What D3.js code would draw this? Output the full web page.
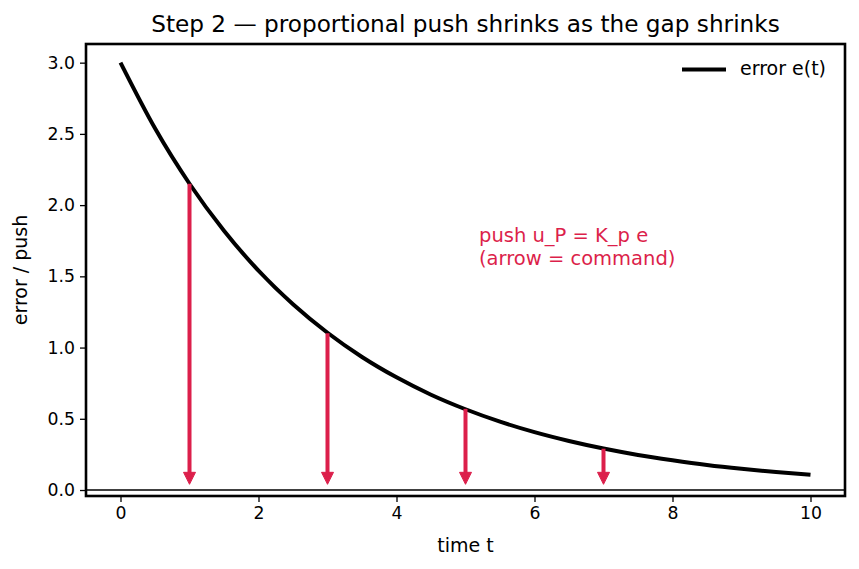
<!DOCTYPE html>
<html><head><meta charset="utf-8">
<script src="https://cdn.jsdelivr.net/npm/d3@7"></script>
<style>body{margin:0;background:#fff}svg{display:block;font-family:"DejaVu Sans",sans-serif}</style>
</head><body><svg id="c" width="859" height="569"></svg>
<script>
const tValues = [0,0.5,1,1.5,2,2.5,3,3.5,4,4.5,5,5.5,6,6.5,7,7.5,8,8.5,9,9.5,10];
const errorValues = [3.000,2.539,2.150,1.820,1.540,1.304,1.104,0.934,0.791,0.669,0.567,0.480,0.406,0.344,0.291,0.246,0.209,0.176,0.149,0.126,0.107];
const arrowT = [1,3,5,7];
const arrowTop = [2.15,1.10,0.57,0.29];
const arrowTip = 0.04;
const xTicks = [0,2,4,6,8,10];
const yTicks = [0.0,0.5,1.0,1.5,2.0,2.5,3.0];

const svg = d3.select("#c");
const L=86,R=845,T=44,B=496;
const x = d3.scaleLinear().domain([-0.5,10.5]).range([L,R]);
const y = d3.scaleLinear().domain([-0.042,3.131]).range([B,T]);
const red = "#dc1f4b";

// y=0 reference line
svg.append("line").attr("x1",L).attr("x2",R).attr("y1",y(0)).attr("y2",y(0))
  .attr("stroke","#000").attr("stroke-width",1.5);

// curve
const pts = tValues.map((t,i)=>[t,errorValues[i]]);
svg.append("path").datum(pts)
  .attr("d", d3.line().x(d=>x(d[0])).y(d=>y(d[1])).curve(d3.curveMonotoneX))
  .attr("fill","none").attr("stroke","#000").attr("stroke-width",4);

// arrows
arrowT.forEach((t,i)=>{
  const xx = x(t), y0 = y(arrowTop[i]), y1 = y(arrowTip);
  const headL = 12, headW = 6;
  svg.append("line").attr("x1",xx).attr("x2",xx).attr("y1",y0).attr("y2",y1-headL+1)
    .attr("stroke",red).attr("stroke-width",4);
  svg.append("path").attr("d",`M${xx-headW},${y1-headL} L${xx+headW},${y1-headL} L${xx},${y1} Z`)
    .attr("fill",red).attr("stroke",red).attr("stroke-width",1).attr("stroke-linejoin","round");
});

// annotation
const ann = svg.append("text").attr("fill",red).attr("font-size",19.5);
ann.append("tspan").attr("x",479).attr("y",242).text("push u_P = K_p e");
ann.append("tspan").attr("x",479).attr("y",265).text("(arrow = command)");

// axes
const xa = svg.append("g").attr("transform",`translate(0,${B})`)
  .call(d3.axisBottom(x).tickValues(xTicks).tickSize(6).tickPadding(5).tickFormat(d3.format("d")));
const ya = svg.append("g").attr("transform",`translate(${L},0)`)
  .call(d3.axisLeft(y).tickValues(yTicks).tickSize(6).tickPadding(5).tickFormat(d3.format(".1f")));
[xa,ya].forEach(g=>{
  g.select(".domain").remove();
  g.selectAll("text").attr("font-size",17.3).attr("font-family","DejaVu Sans").attr("fill","#000");
  g.selectAll("line").attr("stroke","#000").attr("stroke-width",1.3);
});

// frame
svg.append("rect").attr("x",L).attr("y",T).attr("width",R-L).attr("height",B-T)
  .attr("fill","none").attr("stroke","#000").attr("stroke-width",2.6);

// labels
svg.append("text").attr("x",(L+R)/2).attr("y",32).attr("text-anchor","middle")
  .attr("font-size",23.2).text("Step 2 — proportional push shrinks as the gap shrinks");
svg.append("text").attr("x",(L+R)/2).attr("y",552).attr("text-anchor","middle")
  .attr("font-size",19).text("time t");
svg.append("text").attr("transform",`translate(27,${(T+B)/2}) rotate(-90)`).attr("text-anchor","middle")
  .attr("font-size",19).text("error / push");

// legend
svg.append("line").attr("x1",682).attr("x2",726).attr("y1",69.5).attr("y2",69.5)
  .attr("stroke","#000").attr("stroke-width",4);
svg.append("text").attr("x",740).attr("y",75).attr("font-size",19).text("error e(t)");
</script></body></html>
